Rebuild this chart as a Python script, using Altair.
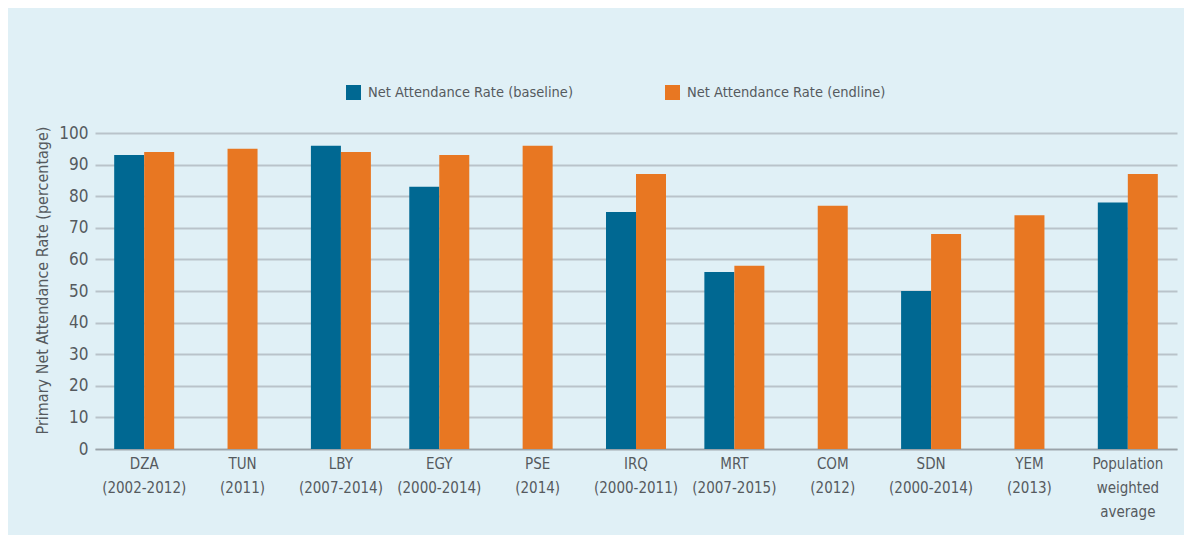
import altair as alt
import pandas as pd

categories = ["DZA|(2002-2012)", "TUN|(2011)", "LBY|(2007-2014)", "EGY|(2000-2014)",
              "PSE|(2014)", "IRQ|(2000-2011)", "MRT|(2007-2015)", "COM|(2012)",
              "SDN|(2000-2014)", "YEM|(2013)", "Population|weighted|average"]
baseline = [93, None, 96, 83, None, 75, 56, None, 50, None, 78]
endline = [94, 95, 94, 93, 96, 87, 58, 77, 68, 74, 87]
series_names = ["Net Attendance Rate (baseline)", "Net Attendance Rate (endline)"]
colors = ["#006892", "#E87722"]

rows = []
for c, b, e in zip(categories, baseline, endline):
    paired = b is not None and e is not None
    if b is not None:
        rows.append({"cat": c, "series": series_names[0], "value": b, "paired": paired})
    if e is not None:
        rows.append({"cat": c, "series": series_names[1], "value": e, "paired": paired})
df = pd.DataFrame(rows)

FONT = "'DejaVu Sans Condensed', 'Roboto Condensed', 'Liberation Sans', sans-serif"
TXT = "#555a5e"

x = alt.X("cat:N", sort=categories,
          scale=alt.Scale(domain=categories, paddingInner=0.39, paddingOuter=0.195),
          axis=alt.Axis(title=None, labelAngle=0, ticks=False, labelPadding=7,
                        labelExpr="split(datum.label, '|')", labelLineHeight=24,
                        labelFontSize=15, labelFont=FONT, labelColor=TXT,
                        domainColor="#9aa3a9", domainWidth=1.5, labelLimit=200))
y = alt.Y("value:Q", scale=alt.Scale(domain=[0, 100]),
          axis=alt.Axis(title="Primary Net Attendance Rate (percentage)", values=list(range(0, 101, 10)),
                        ticks=False, domain=False, labelPadding=7, labelFontSize=17, labelFont=FONT,
                        labelColor=TXT, titleFont=FONT, titleFontSize=16, titleFontWeight="normal",
                        titleColor=TXT, titlePadding=8, titleY=147, gridColor="#b9c3ca", gridWidth=2))
color = alt.Color("series:N", scale=alt.Scale(domain=series_names, range=colors),
                  legend=alt.Legend(title=None, orient="none", direction="horizontal",
                                    legendX=251, legendY=-48, symbolType="square", symbolSize=225,
                                    symbolStrokeWidth=0, symbolOpacity=1, labelFont=FONT,
                                    labelFontSize=14.5, labelColor=TXT, columnPadding=92,
                                    labelOffset=7, padding=0, labelLimit=400))

paired = alt.Chart(df).transform_filter("datum.paired").mark_bar().encode(
    x=x, y=y, color=color,
    xOffset=alt.XOffset("series:N", scale=alt.Scale(domain=series_names, paddingInner=0, paddingOuter=0)))
single = alt.Chart(df).transform_filter("!datum.paired").mark_bar(
    width=alt.RelativeBandSize(0.5)).encode(x=x, y=y, color=color)

chart = alt.layer(paired, single).properties(
    width=1082, height=316,
    autosize=alt.AutoSizeParams(type="none"),
    padding={"left": 87, "top": 125, "right": 7, "bottom": 86},
    background="#e0f0f6",
).configure_view(stroke=None)

chart.save("out.html", embed_options={"renderer": "svg", "actions": False})
